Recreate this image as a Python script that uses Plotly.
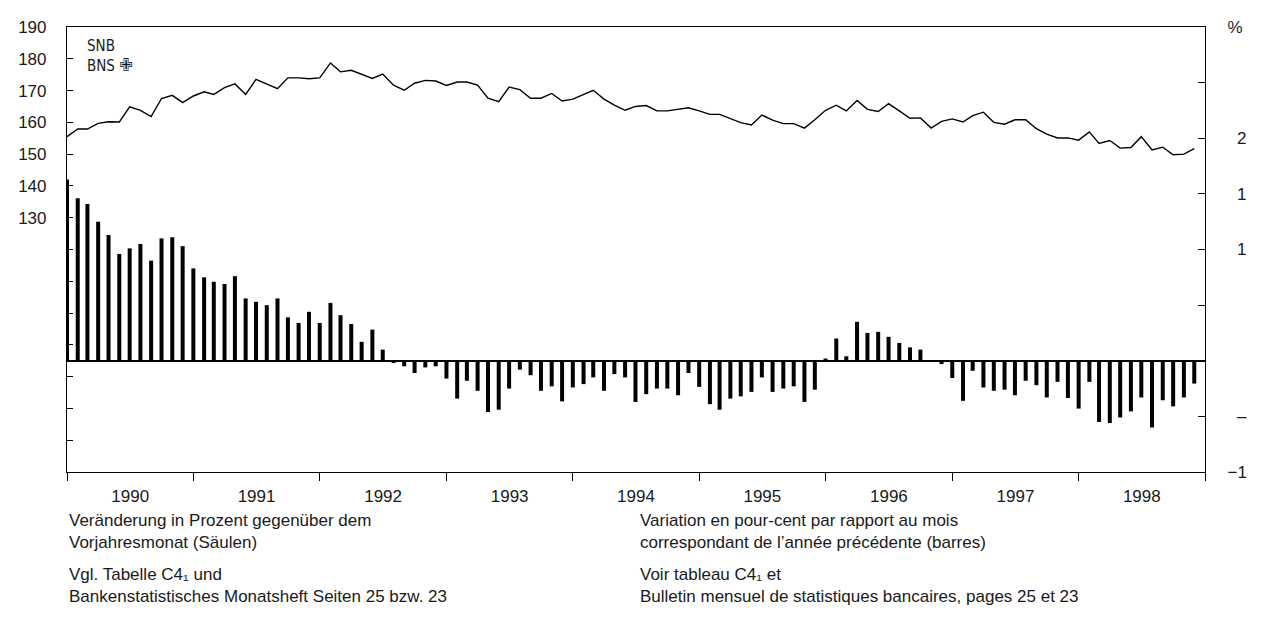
import plotly.graph_objects as go
import pandas as pd

# monthly, Jan 1990 - Dec 1998
months = pd.date_range("1990-01-01", periods=108, freq="MS")

# change vs. same month of previous year, % (bars, right axis)
pct_change = [
    16.3, 14.6, 14.1, 12.5, 11.3, 9.6, 10.1, 10.5, 9.0, 11.0, 11.1, 10.3,
    8.3, 7.5, 7.1, 6.9, 7.6, 5.6, 5.3, 5.0, 5.6, 3.9, 3.4, 4.4,
    3.4, 5.2, 4.1, 3.3, 1.7, 2.8, 1.0, -0.2, -0.5, -1.1, -0.6, -0.5,
    -1.6, -3.4, -1.8, -2.7, -4.6, -4.4, -2.5, -0.8, -1.3, -2.7, -2.3, -3.65,
    -2.4, -2.1, -1.5, -2.7, -1.2, -1.5, -3.7, -3.0, -2.5, -2.5, -3.1, -1.1,
    -2.35, -3.9, -4.4, -3.4, -3.2, -2.8, -1.5, -2.8, -2.5, -2.3, -3.7, -2.6,
    0.2, 2.0, 0.4, 3.5, 2.5, 2.6, 2.15, 1.6, 1.2, 1.0, -0.1, -0.3,
    -1.55, -3.6, -0.9, -2.4, -2.7, -2.6, -3.1, -1.8, -2.2, -3.3, -1.9, -3.35,
    -4.3, -1.9, -5.5, -5.6, -5.1, -4.55, -3.3, -6.0, -3.55, -4.1, -3.3, -2.05,
]

# level (line, left axis)
level = [
    155.5, 157.9, 157.9, 159.7, 160.2, 160.1, 164.9, 163.8, 161.8, 167.5, 168.5, 166.2,
    168.3, 169.6, 168.8, 170.9, 172.1, 168.8, 173.5, 172.1, 170.6, 174.0, 174.0, 173.7,
    174.0, 178.7, 175.9, 176.4, 175.2, 173.8, 175.2, 171.7, 170.1, 172.3, 173.2, 173.0,
    171.6, 172.7, 172.7, 171.7, 167.6, 166.5, 171.1, 170.3, 167.6, 167.6, 169.1, 166.7,
    167.3, 168.8, 170.1, 167.3, 165.4, 163.8, 165.0, 165.3, 163.6, 163.6, 164.1, 164.6,
    163.6, 162.5, 162.5, 161.3, 159.9, 159.2, 162.3, 160.7, 159.6, 159.6, 158.2, 160.8,
    163.8, 165.4, 163.6, 166.9, 164.1, 163.4, 165.9, 163.6, 161.3, 161.4, 158.2, 160.3,
    161.1, 160.1, 162.1, 163.2, 160.0, 159.4, 160.8, 160.8, 158.0, 156.3, 155.1, 155.1,
    154.4, 157.0, 153.4, 154.3, 151.9, 152.1, 155.5, 151.3, 152.2, 149.8, 150.0, 151.7,
]

left_ticks = list(range(50, 200, 10))
left_labels = ["" if v < 130 else str(v) for v in left_ticks]
right_ticks = [-10, -5, 0, 5, 10, 15, 20, 25, 30]
# figure space (U+2007) keeps the one-character labels right-aligned with "−1"
right_labels = ["\u22121", "\u2007\u2013", "", "", "\u20071", "\u20071", "\u20072", "", "%"]

notes_de = ["Veränderung in Prozent gegenüber dem", "Vorjahresmonat (Säulen)",
            "Vgl. Tabelle C4\u2081 und", "Bankenstatistisches Monatsheft Seiten 25 bzw. 23"]
notes_fr = ["Variation en pour-cent par rapport au mois",
            "correspondant de l\u2019année précédente (barres)",
            "Voir tableau C4\u2081 et", "Bulletin mensuel de statistiques bancaires, pages 25 et 23"]

font = "Liberation Sans, Arial, sans-serif"
logo_font = "Liberation Sans Narrow, DejaVu Sans Condensed, sans-serif"

fig = go.Figure()
fig.add_trace(go.Bar(x=months, y=pct_change, yaxis="y2", marker_color="black",
                     marker_line_width=0, width=[1.0e9] * len(months), showlegend=False))
fig.add_trace(go.Scatter(x=months, y=level, mode="lines",
                         line=dict(color="black", width=1.4), showlegend=False))

# page body has an 8px margin, so the figure is shrunk by that amount
fig.update_layout(
    width=1249, height=601,
    margin=dict(l=56, r=29, t=10, b=137),
    paper_bgcolor="white", plot_bgcolor="white",
    font=dict(family=font, size=17, color="#1a1a1a"),
    xaxis=dict(type="date", range=["1990-01-01", "1999-01-01"],
               tick0="1990-01-01", dtick="M12", tickformat="%Y",
               ticklabelmode="period", ticks="outside", ticklen=8,
               tickcolor="black", showline=True, linecolor="black",
               linewidth=1.2, mirror=True, showgrid=False, zeroline=False),
    yaxis=dict(range=[50, 190], tickvals=left_ticks, ticktext=left_labels,
               ticks="inside", ticklen=6, tickcolor="black", showline=True,
               linecolor="black", linewidth=1.2, showgrid=False, zeroline=False,
               ticklabelstandoff=16),
    yaxis2=dict(range=[-10, 30], overlaying="y", side="right",
                tickvals=right_ticks, ticktext=right_labels,
                ticks="inside", ticklen=7, tickcolor="black", showline=True,
                linecolor="black", linewidth=1.2, showgrid=False,
                zeroline=True, zerolinecolor="black", zerolinewidth=1.5,
                ticklabelstandoff=18),
)

# SNB / BNS logo
fig.add_annotation(x=0.0155, y=0.935, xref="paper", yref="paper",
                   text="SNB<br>BNS <span style='font-size:18px'>\u2719</span>",
                   showarrow=False, xanchor="left", yanchor="middle", align="left",
                   font=dict(family=logo_font, size=15))

# notes below the chart
note_y = [-0.110, -0.1586, -0.2313, -0.2797]
for txt, yy in zip(notes_de, note_y):
    fig.add_annotation(x=0, y=yy, xref="paper", yref="paper", text=txt,
                       showarrow=False, xanchor="left", yanchor="middle",
                       font=dict(size=17))
for txt, yy in zip(notes_fr, note_y):
    fig.add_annotation(x=0.5017, y=yy, xref="paper", yref="paper", text=txt,
                       showarrow=False, xanchor="left", yanchor="middle",
                       font=dict(size=17))

fig.write_html("out.html")
